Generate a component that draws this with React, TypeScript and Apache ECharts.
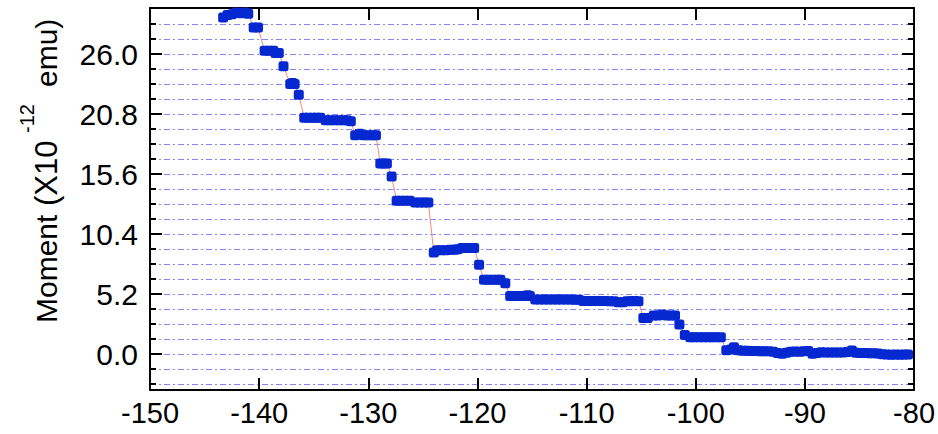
import React, { useEffect, useRef } from "react";
import * as echarts from "echarts";

// Temperature (x) and moment (y, ×10^-12 emu)
const temperature = [
  -143.3, -142.9, -142.5, -142.1, -141.7, -141.3, -141.0,
  -140.5, -140.1,
  -139.5, -139.1, -138.7, -138.5, -138.2,
  -137.77,
  -137.15, -136.95, -136.75,
  -136.37,
  -135.87, -135.5, -135.1, -134.75, -134.4,
  -133.9, -133.5, -133.1, -132.7, -132.3, -131.95, -131.6,
  -131.2, -130.8, -130.4, -130.0, -129.6, -129.3,
  -128.9, -128.6, -128.3,
  -127.86,
  -127.4, -127.0, -126.6, -126.2,
  -125.7, -125.3, -124.9, -124.5,
  -124.0,
  -123.7, -123.3, -122.9, -122.5, -122.1, -121.8,
  -121.4, -121.0, -120.6, -120.3,
  -119.85,
  -119.4, -119.0, -118.6, -118.2, -117.9,
  -117.45,
  -117.0, -116.6, -116.2, -115.8, -115.4, -115.2,
  -114.7, -114.3, -113.9, -113.5, -113.1, -112.7, -112.3, -111.9, -111.5, -111.1, -110.7,
  -110.3, -109.9, -109.5, -109.1, -108.7, -108.3, -107.9, -107.5, -107.1, -106.7, -106.3, -105.9, -105.6, -105.25,
  -104.8, -104.4,
  -103.85, -103.45, -103.05, -102.65, -102.25, -101.9,
  -101.5,
  -101.0,
  -100.5, -100.1, -99.7, -99.3, -98.9, -98.5, -98.1, -97.7,
  -97.2, -96.8, -96.5, -96.1, -95.7, -95.3, -94.9, -94.5, -94.1, -93.7, -93.3, -92.9,
  -92.5, -92.1, -91.7, -91.3, -90.9, -90.5, -90.1, -89.7, -89.3, -88.9, -88.5, -88.1,
  -87.7, -87.3, -86.9, -86.5, -86.1, -85.7, -85.3, -84.9, -84.5, -84.1, -83.7, -83.3,
  -82.9, -82.5, -82.1, -81.7, -81.3, -80.9, -80.55,
];

const moment = [
  29.17, 29.4, 29.45, 29.6, 29.55, 29.6, 29.5,
  28.3, 28.3,
  26.29, 26.29, 26.29, 26.11, 26.11,
  24.95,
  23.41, 23.5, 23.41,
  22.48,
  20.49, 20.49, 20.49, 20.49, 20.49,
  20.27, 20.27, 20.27, 20.27, 20.27, 20.27, 20.19,
  18.97, 19.1, 18.97, 18.97, 18.97, 18.97,
  16.52, 16.52, 16.52,
  15.4,
  13.3, 13.3, 13.3, 13.3,
  13.15, 13.15, 13.15, 13.15,
  8.81,
  9.02, 9.02, 9.02, 9.05, 9.05, 9.1,
  9.2, 9.2, 9.2, 9.2,
  7.75,
  6.45, 6.45, 6.45, 6.45, 6.45,
  6.14,
  5.05, 5.05, 5.05, 5.05, 5.12, 5.05,
  4.74, 4.74, 4.74, 4.74, 4.74, 4.74, 4.74, 4.74, 4.74, 4.72, 4.72,
  4.61, 4.61, 4.61, 4.61, 4.61, 4.61, 4.6, 4.6, 4.5, 4.5, 4.6, 4.6, 4.62, 4.6,
  3.14, 3.14,
  3.36, 3.36, 3.45, 3.36, 3.36, 3.36,
  2.58,
  1.67,
  1.48, 1.48, 1.48, 1.48, 1.48, 1.48, 1.48, 1.48,
  0.35, 0.4, 0.6, 0.35, 0.3, 0.3, 0.28, 0.28, 0.26, 0.25, 0.25, 0.22,
  0.1, 0.05, 0.12, 0.22, 0.24, 0.22, 0.25, 0.28, 0.05, 0.1, 0.18, 0.16,
  0.16, 0.15, 0.15, 0.14, 0.2, 0.32, 0.12, 0.1, 0.1, 0.08, 0.08, 0.06,
  0.0, -0.03, -0.04, -0.03, -0.04, -0.03, -0.02,
];

const yMajorTicks = [0, 5.2, 10.4, 15.6, 20.8, 26.0];
const yMinorTicks = [
  -2.6, -1.3, 0, 1.3, 2.6, 3.9, 5.2, 6.5, 7.8, 9.1, 10.4, 11.7, 13.0, 14.3, 15.6,
  16.9, 18.2, 19.5, 20.8, 22.1, 23.4, 24.7, 26.0, 27.3, 28.6,
];

const FONT = "'Liberation Sans', Arial, Helvetica, sans-serif";
const Y_MIN = -3.1;
const Y_MAX = 30;

export default function App() {
  const ref = useRef<HTMLDivElement>(null);

  useEffect(() => {
    if (!ref.current) return;
    const chart = echarts.init(ref.current, undefined, { renderer: "svg" });
    const data = temperature.map((t, i) => [t, moment[i]]);

    const baseY = {
      type: "value",
      min: Y_MIN,
      max: Y_MAX,
      axisLine: { show: false },
      axisLabel: { show: false },
      splitLine: { show: false },
    };

    chart.setOption({
      animation: false,
      backgroundColor: "#ffffff",
      grid: { left: 150, right: 23, top: 8, bottom: 44, containLabel: false },
      xAxis: [
        {
          type: "value",
          position: "bottom",
          min: -150,
          max: -80,
          interval: 10,
          axisLine: { show: true, onZero: false, lineStyle: { color: "#000", width: 2 } },
          axisTick: { show: true, inside: true, length: 12, lineStyle: { color: "#000", width: 2 } },
          axisLabel: { show: true, color: "#000", fontSize: 29, fontFamily: FONT, margin: 8 },
          splitLine: { show: false },
        },
        {
          type: "value",
          position: "top",
          min: -150,
          max: -80,
          interval: 10,
          axisLine: { show: true, onZero: false, lineStyle: { color: "#000", width: 2 } },
          axisTick: { show: true, inside: true, length: 12, lineStyle: { color: "#000", width: 2 } },
          axisLabel: { show: false },
          splitLine: { show: false },
        },
      ],
      yAxis: [
        {
          ...baseY,
          position: "left",
          axisLine: { show: true, onZero: false, lineStyle: { color: "#000", width: 2 } },
          axisTick: {
            show: true,
            inside: true,
            length: 12,
            customValues: yMajorTicks,
            lineStyle: { color: "#000", width: 2 },
          },
          axisLabel: {
            show: true,
            customValues: yMajorTicks,
            color: "#000",
            fontSize: 30,
            fontFamily: FONT,
            margin: 12,
            formatter: (v: number) => v.toFixed(1),
          },
        },
        {
          ...baseY,
          position: "left",
          axisTick: {
            show: true,
            inside: true,
            length: 6,
            customValues: yMinorTicks,
            lineStyle: { color: "#000", width: 2 },
          },
          splitLine: {
            show: true,
            lineStyle: { color: "#8585ff", width: 1, type: [6, 3, 2, 3] },
          },
        },
        {
          ...baseY,
          position: "right",
          axisLine: { show: true, onZero: false, lineStyle: { color: "#000", width: 2 } },
          axisTick: {
            show: true,
            inside: true,
            length: 12,
            customValues: yMajorTicks,
            lineStyle: { color: "#000", width: 2 },
          },
        },
        {
          ...baseY,
          position: "right",
          axisTick: {
            show: true,
            inside: true,
            length: 6,
            customValues: yMinorTicks,
            lineStyle: { color: "#000", width: 2 },
          },
        },
      ],
      series: [
        {
          type: "line",
          xAxisIndex: 0,
          yAxisIndex: 0,
          data,
          showSymbol: true,
          showAllSymbol: true,
          symbol: "roundRect",
          symbolSize: 10,
          itemStyle: { color: "#0628d0" },
          lineStyle: { color: "#f6897c", width: 1 },
          z: 5,
        },
      ],
      graphic: [
        {
          type: "group",
          x: 46,
          y: 323,
          rotation: Math.PI / 2,
          children: [
            {
              type: "text",
              x: 0,
              y: 0,
              style: { text: "Moment", fontSize: 30, fontFamily: FONT, fill: "#000", align: "left", verticalAlign: "middle" },
            },
            {
              type: "text",
              x: 117,
              y: 0,
              style: { text: "(X10", fontSize: 31, fontFamily: FONT, fill: "#000", align: "left", verticalAlign: "middle" },
            },
            {
              type: "text",
              x: 190,
              y: -19,
              style: { text: "-12", fontSize: 20, fontFamily: FONT, fill: "#000", align: "left", verticalAlign: "middle" },
            },
            {
              type: "text",
              x: 236,
              y: 0,
              style: { text: "emu)", fontSize: 30, fontFamily: FONT, fill: "#000", align: "left", verticalAlign: "middle" },
            },
          ],
        },
      ],
    });

    return () => chart.dispose();
  }, []);

  return (
    <div
      ref={ref}
      style={{ position: "fixed", left: 0, top: 0, width: 938, height: 434, background: "#fff" }}
    />
  );
}
